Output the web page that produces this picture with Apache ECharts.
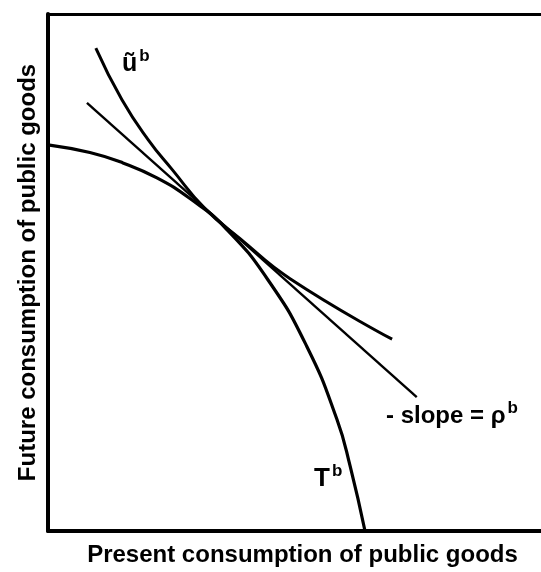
<!DOCTYPE html>
<html>
<head>
<meta charset="utf-8">
<script src="https://cdn.jsdelivr.net/npm/echarts@6/dist/echarts.min.js"></script>
<style>
  html, body { margin: 0; padding: 0; background: #fff; }
  #chart { width: 541px; height: 572px; }
</style>
</head>
<body>
<div id="chart"></div>
<script>
// points, axes run 0..100 on both sides
var transformCurve = [
    [0, 74.7], [8.5, 73.2], [15.2, 71.2], [22.1, 68.3], [28.8, 64.3],
    [35.9, 58.7], [44.6, 48.6], [52.5, 35.7], [58.6, 21.6], [61.3, 12.5], [64.3, 0]
];
var indifferenceCurve = [
    [9.7, 93.4], [15.0, 83.4], [20.3, 75.7], [25.2, 69.9],
    [31.8, 62.4], [38.9, 56.6], [49.1, 48.8], [69.8, 37.1]
];
var priceLine = [[7.9, 82.8], [74.8, 25.9]];

var xName = 'Present consumption of public goods';
var yName = 'Future consumption of public goods';

var font = '"Liberation Sans", Arial, sans-serif';

var chart = echarts.init(document.getElementById('chart'), null, { renderer: 'canvas' });

function bareAxis(pos, extra) {
    var ax = {
        type: 'value',
        position: pos,
        min: 0,
        max: 100,
        axisLine: { show: true, lineStyle: { color: '#000', width: 4 } },
        axisTick: { show: false },
        axisLabel: { show: false },
        splitLine: { show: false }
    };
    for (var k in extra) ax[k] = extra[k];
    return ax;
}

function supLabel(main, sup, size) {
    return {
        text: '{m|' + main + '}{s|' + sup + '}',
        rich: {
            m: { fontFamily: font, fontWeight: 'bold', fontSize: size, fill: '#000' },
            s: { fontFamily: font, fontWeight: 'bold', fontSize: 17, fill: '#000', padding: [0, 0, 15, 2] }
        }
    };
}

chart.setOption({
    backgroundColor: '#fff',
    animation: false,
    grid: { left: 48, right: 0, top: 14, bottom: 40 },
    xAxis: [
        bareAxis('bottom', {
            name: xName,
            nameLocation: 'middle',
            nameGap: 12,
            nameTextStyle: { fontFamily: font, fontWeight: 'bold', fontSize: 24, color: '#000', verticalAlign: 'top', padding: [0, 0, 0, 16] }
        }),
        bareAxis('top', { axisLine: { show: true, lineStyle: { color: '#000', width: 3 } } })
    ],
    yAxis: bareAxis('left', {
        name: yName,
        nameLocation: 'middle',
        nameGap: 8,
        nameRotate: 90,
        nameTextStyle: { fontFamily: font, fontWeight: 'bold', fontSize: 24, color: '#000' }
    }),
    series: [
        {
            name: 'T',
            type: 'line',
            data: transformCurve,
            smooth: 0.5,
            showSymbol: false,
            lineStyle: { color: '#000', width: 3.2 }
        },
        {
            name: 'u',
            type: 'line',
            data: indifferenceCurve,
            smooth: 0.5,
            showSymbol: false,
            lineStyle: { color: '#000', width: 3 }
        },
        {
            name: 'slope',
            type: 'line',
            data: priceLine,
            showSymbol: false,
            lineStyle: { color: '#000', width: 2.4 }
        }
    ],
    graphic: [
        { type: 'text', left: 122, top: 48, style: supLabel('\u0169', 'b', 25) },
        { type: 'text', left: 314, top: 463, style: supLabel('T', 'b', 26) },
        { type: 'text', left: 386, top: 400, style: supLabel('- slope = \u03c1', 'b', 24) }
    ]
});
</script>
</body>
</html>
